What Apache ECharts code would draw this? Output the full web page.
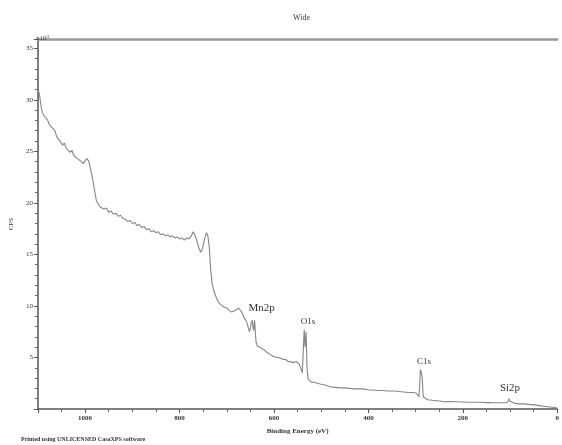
<!DOCTYPE html>
<html>
<head>
<meta charset="utf-8">
<script src="https://cdn.jsdelivr.net/npm/echarts@6/dist/echarts.min.js"></script>
<style>
    html, body {margin:0; padding:0; background:#fff; overflow:hidden;}
    #xps_chart {width:562px; height:445px;}
</style>
</head>
<body>
<div id="xps_chart"></div>
<script>
// binding energy (eV) and counts (x10^3 CPS)
let binding_energy = [1100,1097,1094,1091,1088,1085,1080,1076,1072,1068,1064,1060,1056,1052,1048,1044,1040,1036,1032,1028,
    1024,1020,1016,1012,1008,1004,1000,996,992,988,984,980,976,972,968,964,960,955,950,945,
    940,935,930,925,920,915,910,905,900,895,890,885,880,875,870,865,860,855,850,845,
    840,835,830,825,820,815,810,805,800,795,790,785,780,775,771,767,763,759,755,751,
    747,743,740,737,734,731,727,722,717,712,706,700,695,690,685,680,675,671,667,663,
    659,655,652,650,648,646,644,643,641,640,638,635,630,626,620,615,611,605,600,595,
    590,585,580,575,570,565,560,556,552,549,546,543,540,538,536,534,532,530,528,526,
    520,514,508,500,490,481,470,460,450,440,430,420,413,405,400,390,380,370,360,350,
    343,335,325,315,305,299,295,293,291,290,288,286,284,282,278,274,265,255,245,239,
    230,220,212,200,190,180,170,160,156,153,145,135,125,115,107,104,102,100,96,90,
    80,70,60,47,35,25,15,5,0];
let cps = [31.0,30.6,29.6,28.8,28.9,28.3,28.1,27.6,27.7,27.2,27.0,26.4,26.5,25.9,25.6,25.8,25.3,25.4,24.9,25.1,
    24.6,24.7,24.3,24.4,24.0,23.8,24.1,24.3,24.0,23.2,22.3,21.2,20.2,19.9,19.6,19.7,19.4,19.5,19.1,19.2,
    18.9,19.0,18.7,18.8,18.5,18.4,18.2,18.3,18.0,18.1,17.8,17.9,17.6,17.7,17.4,17.5,17.2,17.3,17.1,17.2,
    16.9,17.0,16.8,16.9,16.7,16.8,16.6,16.7,16.5,16.6,16.4,16.6,16.5,16.8,17.2,16.8,16.3,15.6,15.2,15.6,
    16.5,17.1,16.8,15.7,13.5,12.2,11.4,10.8,10.3,10.1,9.9,9.8,9.6,9.4,9.5,9.6,9.8,9.7,9.3,8.8,
    8.6,8.0,7.5,7.8,8.4,8.6,7.8,7.6,8.6,8.5,6.5,6.1,6.0,5.9,5.7,5.5,5.4,5.2,5.1,5.0,
    5.0,4.9,4.8,4.8,4.6,4.6,4.5,4.5,4.6,4.6,4.3,3.9,3.5,3.6,7.7,6.0,7.5,4.0,3.0,2.8,
    2.6,2.6,2.5,2.4,2.3,2.15,2.1,2.05,2.05,2.0,1.95,1.95,1.95,1.9,1.85,1.85,1.8,1.8,1.75,1.75,
    1.75,1.7,1.65,1.6,1.6,1.55,1.4,1.2,2.5,3.8,3.6,3.0,1.3,1.1,1.0,0.9,0.85,0.8,0.75,0.7,
    0.72,0.7,0.7,0.68,0.66,0.65,0.65,0.65,0.75,0.62,0.62,0.6,0.6,0.6,0.6,0.8,1.0,0.75,0.6,0.55,
    0.5,0.5,0.45,0.4,0.3,0.25,0.2,0.15,0.1];

// peak labels: name, energy and height of the label
let peak_names = ['Mn2p','O1s','C1s','Si2p'];
let peak_energy = [626,528,282,100];
let peak_label_y = [9.8,8.45,4.56,2.04];
let peak_font = [11,9,9,11];

let x_ticks = [0,200,400,600,800,1000];

function xps_chart(){
    let myChart = echarts.init(document.getElementById('xps_chart'));
    let data = [];
    for(let i=0;i<binding_energy.length;i++){
        data.push([binding_energy[i],cps[i]]);
    }
    let marks = [];
    for(let i=0;i<peak_names.length;i++){
        marks.push({
            coord:[peak_energy[i],peak_label_y[i]],
            value:peak_names[i],
            label:{fontSize:peak_font[i]}
        });
    }
    let serif = 'Liberation Serif';
    let option = {
        animation:false,
        backgroundColor:'#fff',
        title:[{
            text:'Wide',
            left:288,
            top:9,
            textStyle:{fontFamily:serif,fontSize:8,fontWeight:'normal',color:'#333'}
        },{
            text:'x10{s|3}',
            left:31,
            top:29,
            textStyle:{fontFamily:serif,fontSize:7,fontWeight:'normal',color:'#333',
                rich:{s:{fontFamily:serif,fontSize:5,color:'#333',verticalAlign:'top',padding:[0,0,4,0]}}}
        },{
            text:'Printed using UNLICENSED CasaXPS software',
            left:16,
            top:431,
            textStyle:{fontFamily:serif,fontSize:6,fontWeight:'bold',color:'#333'}
        }],
        grid:{left:32,right:0,top:39,bottom:36,containLabel:false},
        xAxis:[{
            type:'value',
            min:0,
            max:1100,
            interval:200,
            inverse:true,
            name:'Binding Energy (eV)',
            nameLocation:'middle',
            nameGap:19,
            nameTextStyle:{fontFamily:serif,fontSize:7,fontWeight:'bold',color:'#333'},
            axisLine:{onZero:false,lineStyle:{color:'#555',width:1.5}},
            axisTick:{length:4,lineStyle:{color:'#555'}},
            minorTick:{show:true,splitNumber:4,length:3,lineStyle:{color:'#666'}},
            axisLabel:{
                showMaxLabel:false,
                fontFamily:serif,fontSize:7,fontWeight:'bold',color:'#333',margin:6,
                formatter:function(v){ return x_ticks.indexOf(v)>=0 ? String(v) : ''; }
            },
            splitLine:{show:false}
        },{
            type:'value',
            position:'top',
            min:0,
            max:1100,
            inverse:true,
            axisLine:{show:true,onZero:false,lineStyle:{color:'#999',width:2.5}},
            axisTick:{show:false},
            axisLabel:{show:false},
            splitLine:{show:false}
        }],
        yAxis:{
            type:'value',
            min:0,
            max:35.9,
            interval:5,
            name:'CPS',
            nameLocation:'middle',
            nameGap:19,
            nameTextStyle:{fontFamily:serif,fontSize:7,color:'#333'},
            axisLine:{show:true,onZero:false,lineStyle:{color:'#555',width:1.5}},
            axisTick:{show:true,length:4,lineStyle:{color:'#555'}},
            minorTick:{show:true,splitNumber:5,length:3,lineStyle:{color:'#666'}},
            axisLabel:{
                showMinLabel:false,
                showMaxLabel:false,
                fontFamily:serif,fontSize:7,color:'#333',margin:5,
                formatter:function(v){ return (v>0 && v%5===0) ? String(v) : ''; }
            },
            splitLine:{show:false}
        },
        series:[{
            type:'line',
            data:data,
            showSymbol:false,
            lineStyle:{color:'#858585',width:1.1},
            markPoint:{
                symbol:'circle',
                symbolSize:0,
                label:{show:true,position:'inside',formatter:'{c}',fontFamily:serif,color:'#333'},
                data:marks
            }
        }]
    };
    myChart.setOption(option);
}
xps_chart();
</script>
</body>
</html>
